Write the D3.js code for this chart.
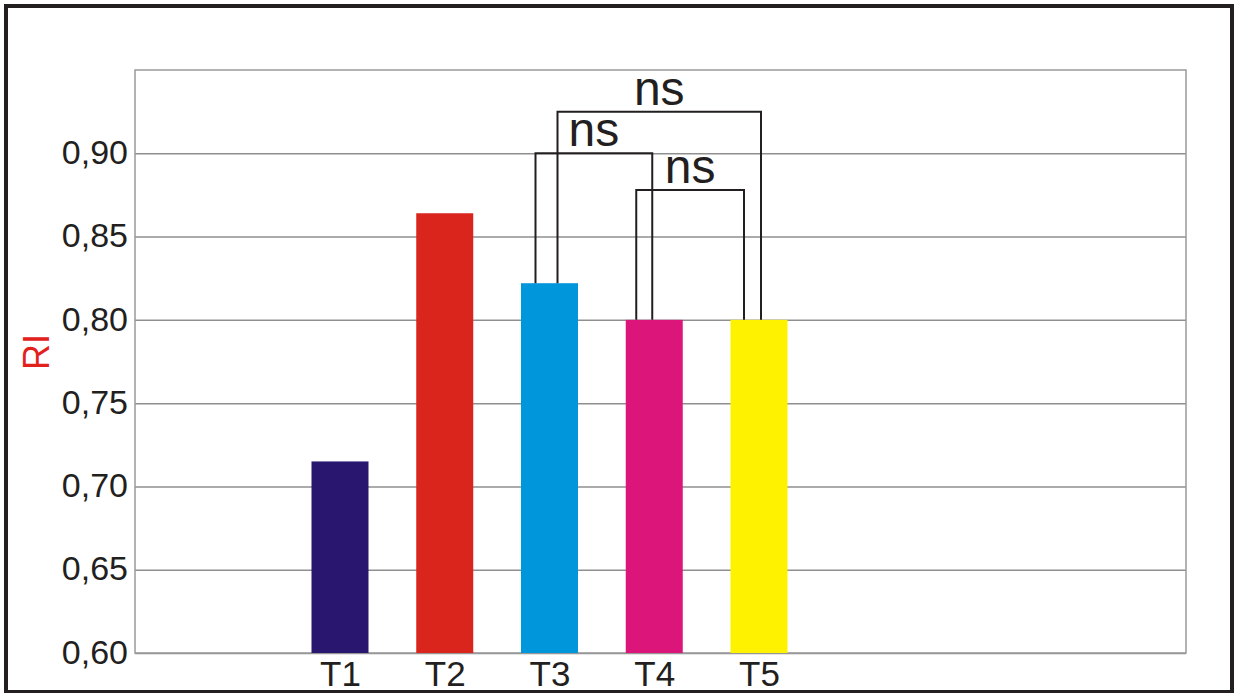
<!DOCTYPE html>
<html>
<head>
<meta charset="utf-8">
<script src="https://cdn.jsdelivr.net/npm/d3@7"></script>
<style>
  body { margin: 0; background: #fff; }
  text { font-family: "Liberation Sans", Arial, sans-serif; }
</style>
</head>
<body>
<div id="grafico"></div>
<script>
// Datos
var tratamientos = ["T1", "T2", "T3", "T4", "T5"];
var valoresRI = [0.715, 0.864, 0.822, 0.800, 0.800];
var coloresBarras = ["#29166f", "#da251d", "#0096db", "#dc157b", "#fff200"];
var ticksY = [0.60, 0.65, 0.70, 0.75, 0.80, 0.85, 0.90];

// Comparaciones (nivel del corchete en unidades de RI)
var compA = ["T3", "T3", "T4"];
var compB = ["T4", "T5", "T5"];
var compNivel = [0.900, 0.925, 0.878];
var compTexto = ["ns", "ns", "ns"];

// Lienzo
var svgWidth = 1234, svgHeight = 693;
var margin = {top: 70, right: 48, bottom: 40, left: 135};
var width = svgWidth - margin.left - margin.right;
var height = svgHeight - margin.top - margin.bottom;

var svgRoot = d3.select("#grafico")
    .append("svg")
    .attr("width", svgWidth)
    .attr("height", svgHeight);

// Marco exterior
svgRoot.append("rect")
    .attr("x", 6)
    .attr("y", 6)
    .attr("width", 1226)
    .attr("height", 686)
    .attr("fill", "none")
    .attr("stroke", "#231f20")
    .attr("stroke-width", 4);

var svg = svgRoot.append("g")
    .attr("transform", "translate(" + margin.left + "," + margin.top + ")");

// Escalas
var yScale = d3.scaleLinear()
    .domain([0.60, 0.95])
    .range([height, 0]);

var xScale = d3.scalePoint()
    .domain(tratamientos)
    .range([340 - margin.left, 759 - margin.left]);

var anchoBarra = 57;

// Eje Y con líneas de cuadrícula
var ejeY = svg.append("g")
    .call(d3.axisLeft(yScale)
        .tickValues(ticksY)
        .tickSizeInner(-width)
        .tickSizeOuter(0)
        .tickPadding(7)
        .tickFormat(function(d) { return d3.format(".2f")(d).replace(".", ","); }));
ejeY.select(".domain").remove();
ejeY.selectAll("line")
    .attr("stroke", "#8f8f8f")
    .attr("stroke-width", 1.5);
ejeY.selectAll("text")
    .style("font-size", "34px")
    .attr("dy", "0.3em")
    .attr("fill", "#231f20");

// Borde del área de trazado
svg.append("rect")
    .attr("x", 0)
    .attr("y", 0)
    .attr("width", width)
    .attr("height", height)
    .attr("fill", "none")
    .attr("stroke", "#9a9a9a")
    .attr("stroke-width", 1.5);

// Barras
svg.selectAll(".barra")
    .data(valoresRI)
    .enter()
    .append("rect")
    .attr("class", "barra")
    .attr("x", function(d, i) { return xScale(tratamientos[i]) - anchoBarra / 2; })
    .attr("y", function(d) { return yScale(d); })
    .attr("width", anchoBarra)
    .attr("height", function(d) { return height - yScale(d); })
    .attr("fill", function(d, i) { return coloresBarras[i]; });

// Eje X
var ejeX = svg.append("g")
    .attr("transform", "translate(0," + height + ")")
    .call(d3.axisBottom(xScale).tickSize(0).tickPadding(8));
ejeX.select(".domain").remove();
ejeX.selectAll("text")
    .style("font-size", "35px")
    .attr("fill", "#231f20");

// Corchetes de comparación
function valorDe(t) { return valoresRI[tratamientos.indexOf(t)]; }
var desplA = [-14, 8, -18];
var desplB = [-2, 2, -15];

for (var i = 0; i < compA.length; i++) {
  var xa = xScale(compA[i]) + desplA[i];
  var xb = xScale(compB[i]) + desplB[i];
  var yn = yScale(compNivel[i]);
  svg.append("path")
      .attr("d", "M" + xa + "," + yScale(valorDe(compA[i])) +
                 "V" + yn + "H" + xb + "V" + yScale(valorDe(compB[i])))
      .attr("fill", "none")
      .attr("stroke", "#231f20")
      .attr("stroke-width", 2);
  svg.append("text")
      .attr("x", (xa + xb) / 2)
      .attr("y", yn - 7)
      .attr("text-anchor", "middle")
      .style("font-size", "48px")
      .attr("fill", "#231f20")
      .text(compTexto[i]);
}

// Título del eje Y
svgRoot.append("text")
    .attr("transform", "translate(49,352) rotate(-90)")
    .attr("text-anchor", "middle")
    .style("font-size", "36px")
    .attr("fill", "#e3211c")
    .text("RI");
</script>
</body>
</html>
